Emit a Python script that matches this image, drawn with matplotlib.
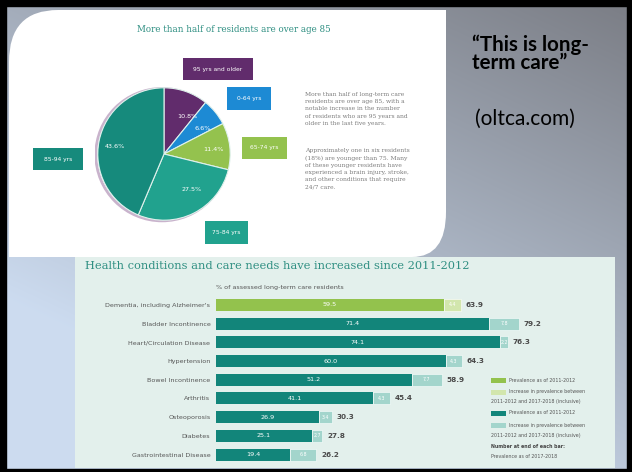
import numpy as np
import matplotlib.pyplot as plt
from matplotlib.patches import Rectangle, PathPatch
from matplotlib.path import Path

# slide size in pixels
W, H = 632, 472

# pie: age of residents (clockwise from the top)
age_groups = ['95 yrs and older', '0-64 yrs', '65-74 yrs', '75-84 yrs', '85-94 yrs']
age_share = [10.8, 6.6, 11.4, 27.5, 43.6]
age_colors = ['#612c6c', '#1d8ad4', '#94c24e', '#21a28e', '#168a7c']

# bars: prevalence of conditions
conditions = ["Dementia, including Alzheimer's", 'Bladder Incontinence',
              'Heart/Circulation Disease', 'Hypertension', 'Bowel Incontinence',
              'Arthritis', 'Osteoporosis', 'Diabetes', 'Gastrointestinal Disease']
prev_2012 = [59.5, 71.4, 74.1, 60.0, 51.2, 41.1, 26.9, 25.1, 19.4]
prev_2018 = [63.9, 79.2, 76.3, 64.3, 58.9, 45.4, 30.3, 27.8, 26.2]

teal = '#12857a'
teal_lt = '#a3d5cc'
lime = '#93c24d'
lime_lt = '#d2e6ad'
title_col = '#2f8f82'


def axes_px(x0, y0, x1, y1):
    # pixel box (y from top) -> figure fraction rect
    return [x0 / W, 1 - y1 / H, (x1 - x0) / W, (y1 - y0) / H]


fig = plt.figure(figsize=(W / 100, H / 100), dpi=100)

# background slide with gradient
bg = fig.add_axes([0, 0, 1, 1], zorder=0)
bg.set_xlim(0, W)
bg.set_ylim(H, 0)
bg.axis('off')
xx, yy = np.meshgrid(np.linspace(0, 1, W), np.linspace(0, 1, H))
t = np.clip(xx * 0.5 + (1 - yy) * 0.8 - 0.3, 0, 1)[..., None]
c0 = np.array([0.80, 0.86, 0.94])
c1 = np.array([0.48, 0.49, 0.52])
bg.imshow(c0 + (c1 - c0) * t, extent=[0, W, H, 0], aspect='auto', zorder=0)

# black frame
for r in [(0, 0, W, 6), (0, 0, 6, H), (627, 0, 5, H), (0, 469, W, 3)]:
    bg.add_patch(Rectangle(r[:2], r[2], r[3], color='black', zorder=5))

# top white panel with rounded corners
verts = [(9, 257), (9, 62), (9, 10), (58, 10), (446, 10), (446, 212),
         (446, 257), (412, 257), (9, 257)]
codes = [Path.MOVETO, Path.LINETO, Path.CURVE3, Path.CURVE3, Path.LINETO,
         Path.LINETO, Path.CURVE3, Path.CURVE3, Path.CLOSEPOLY]
bg.add_patch(PathPatch(Path(verts, codes), facecolor='white', edgecolor='none', zorder=1))

# bottom panel
bg.add_patch(Rectangle((75, 257), 540, 211, facecolor='#e3f0ec', edgecolor='none', zorder=1))

# ---- pie infographic ----
bg.text(234, 30, 'More than half of residents are over age 85', ha='center', va='center',
        fontsize=6.3, color=title_col, family='DejaVu Serif', zorder=3)

pax = fig.add_axes(axes_px(94.5, 84.5, 233.5, 223.5), zorder=2)
pax.set_facecolor('none')
pax.add_patch(plt.Circle((-0.03, -0.01), 1.0, facecolor='none', edgecolor='#c9b3cc', lw=2.0))
wedges, txts = pax.pie(age_share, colors=age_colors, startangle=90, counterclock=False,
                       labels=['%.1f%%' % v for v in age_share], labeldistance=0.6,
                       wedgeprops=dict(edgecolor='#dff1ec', linewidth=0.8),
                       textprops=dict(color='white', fontsize=4.6))
pax.set_xlim(-1.05, 1.05)
pax.set_ylim(-1.05, 1.05)
pax.set_aspect('equal')
pax.axis('off')

boxes = [(183, 58, 253, 80), (227, 87, 271, 110), (242, 137, 287, 159),
         (205, 221, 248, 244), (33, 148, 83, 170)]
for (x0, y0, x1, y1), lab, col in zip(boxes, age_groups, age_colors):
    bg.add_patch(Rectangle((x0, y0), x1 - x0, y1 - y0, facecolor=col, edgecolor='none', zorder=3))
    bg.text((x0 + x1) / 2, (y0 + y1) / 2, lab, ha='center', va='center', color='white',
            fontsize=4.3, zorder=4)

para = ("More than half of long-term care\nresidents are over age 85, with a\n"
        "notable increase in the number\nof residents who are 95 years and\n"
        "older in the last five years.")
para2 = ("Approximately one in six residents\n(18%) are younger than 75. Many\n"
         "of these younger residents have\nexperienced a brain injury, stroke,\n"
         "and other conditions that require\n24/7 care.")
bg.text(305, 92, para, ha='left', va='top', fontsize=4.3, color='#7a7a7a',
        family='DejaVu Serif', linespacing=1.55, zorder=3)
bg.text(305, 148, para2, ha='left', va='top', fontsize=4.3, color='#7a7a7a',
        family='DejaVu Serif', linespacing=1.55, zorder=3)

# ---- bar chart ----
bg.text(85, 266, 'Health conditions and care needs have increased since 2011-2012',
        ha='left', va='center', fontsize=8.2, color=title_col, family='DejaVu Serif', zorder=3)
bg.text(216, 288, '% of assessed long-term care residents', ha='left', va='center',
        fontsize=4.6, color='#555555', zorder=3)

bax = fig.add_axes(axes_px(216, 295.5, 600, 464), zorder=2)
bax.set_facecolor('none')
y = np.arange(len(conditions))
base = np.array(prev_2012)
tot = np.array(prev_2018)
c_base = [lime] + [teal] * (len(y) - 1)
c_inc = [lime_lt] + [teal_lt] * (len(y) - 1)
bax.barh(y, base, height=0.64, color=c_base)
bax.barh(y, tot - base, left=base, height=0.64, color=c_inc, edgecolor='white', linewidth=0.4)
for i in y:
    bax.text(base[i] / 2, i, '%.1f' % base[i], ha='center', va='center', color='white', fontsize=4.6)
    bax.text(base[i] + (tot[i] - base[i]) / 2, i, '%.1f' % (tot[i] - base[i]), ha='center',
             va='center', color='white', fontsize=3.4)
    bax.text(tot[i] + 1.2, i, '%.1f' % tot[i], ha='left', va='center', color='#4a4a4a',
             fontsize=5.2, fontweight='bold')
bax.set_xlim(0, (600 - 216) / 3.83)
bax.set_ylim(len(y) - 0.5, -0.5)
bax.set_yticks(y)
bax.set_yticklabels(conditions, fontsize=4.6, color='#555555')
bax.tick_params(axis='y', length=0, pad=4)
bax.set_xticks([])
for s in bax.spines.values():
    s.set_visible(False)

# legend
leg = [(380, lime, ['Prevalence as of 2011-2012']),
       (392, lime_lt, ['Increase in prevalence between', '2011-2012 and 2017-2018 (inclusive)']),
       (413, teal, ['Prevalence as of 2011-2012']),
       (425, teal_lt, ['Increase in prevalence between', '2011-2012 and 2017-2018 (inclusive)'])]
for yy0, col, lines in leg:
    bg.add_patch(Rectangle((491, yy0 - 2.5), 15, 5, facecolor=col, edgecolor='none', zorder=3))
    bg.text(509, yy0, lines[0], ha='left', va='center', fontsize=3.4, color='#555555', zorder=3)
    if len(lines) > 1:
        bg.text(491, yy0 + 10, lines[1], ha='left', va='center', fontsize=3.4, color='#555555', zorder=3)
bg.text(491, 447, 'Number at end of each bar:', ha='left', va='center', fontsize=3.4,
        color='#444444', fontweight='bold', zorder=3)
bg.text(491, 456, 'Prevalence as of 2017-2018', ha='left', va='center', fontsize=3.4,
        color='#555555', zorder=3)

# slide text on the right
bg.text(472, 54, '\u201cThis is long-\nterm care\u201d', ha='left', va='center', fontsize=14.8,
        fontweight='bold', family='Lato', color='black', linespacing=0.9, zorder=3)
bg.text(475, 119, '(oltca.com)', ha='left', va='center', fontsize=15, family='Lato',
        color='black', zorder=3)

fig.savefig('out.png', dpi=100)
